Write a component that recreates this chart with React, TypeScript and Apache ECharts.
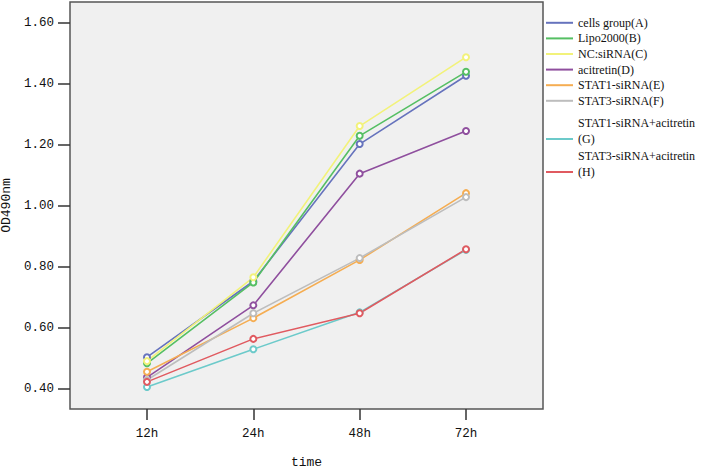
import React, { useEffect, useRef } from "react";
import * as echarts from "echarts";

const categories = ["12h", "24h", "48h", "72h"];
const yTicks = [0.4, 0.6, 0.8, 1.0, 1.2, 1.4, 1.6];

const seriesNames = [
  "cells group(A)",
  "Lipo2000(B)",
  "NC:siRNA(C)",
  "acitretin(D)",
  "STAT1-siRNA(E)",
  "STAT3-siRNA(F)",
  "STAT1-siRNA+acitretin\n(G)",
  "STAT3-siRNA+acitretin\n(H)",
];

const valuesA = [0.503, 0.752, 1.202, 1.426];
const valuesB = [0.483, 0.748, 1.229, 1.439];
const valuesC = [0.49, 0.765, 1.261, 1.487];
const valuesD = [0.437, 0.673, 1.105, 1.245];
const valuesE = [0.455, 0.631, 0.822, 1.041];
const valuesF = [0.428, 0.647, 0.828, 1.028];
const valuesG = [0.405, 0.529, 0.65, 0.855];
const valuesH = [0.422, 0.563, 0.647, 0.857];

const allValues = [valuesA, valuesB, valuesC, valuesD, valuesE, valuesF, valuesG, valuesH];
const colors = ["#6673bd", "#55bf63", "#f2f27a", "#8f4f9e", "#f5ad52", "#bdbdbd", "#6ccaca", "#e05a60"];

export default function App() {
  const ref = useRef<HTMLDivElement>(null);
  useEffect(() => {
    if (!ref.current) return;
    const chart = echarts.init(ref.current, undefined, { renderer: "svg" });
    const legendText = { fontFamily: "Liberation Serif", fontSize: 12, color: "#111", lineHeight: 15.6 };
    const legendCommon = {
      orient: "vertical" as const,
      left: 546,
      padding: 0,
      itemGap: 0,
      itemWidth: 27,
      itemHeight: 2,
      icon: "rect",
      textStyle: legendText,
      selectedMode: false,
    };
    chart.setOption({
      animation: false,
      backgroundColor: "#ffffff",
      grid: {
        left: 70,
        right: 163,
        top: 2,
        bottom: 60,
        outerBoundsMode: "none",
        containLabel: false,
        show: true,
        backgroundColor: "#f0f0f0",
        borderColor: "#555",
        borderWidth: 1.5,
      },
      legend: [
        { ...legendCommon, top: 15, data: seriesNames.slice(0, 6) },
        { ...legendCommon, top: 115.6, data: [seriesNames[6]], formatter: (n: string) => n + "\n " },
        { ...legendCommon, top: 148.6, data: [seriesNames[7]], formatter: (n: string) => n + "\n " },
      ],
      xAxis: {
        type: "value",
        min: -0.724,
        max: 3.724,
        name: "time",
        nameLocation: "middle",
        nameGap: 47,
        nameTextStyle: { fontFamily: "Liberation Mono", fontSize: 13, color: "#111" },
        axisLine: { show: false, onZero: false },
        splitLine: { show: false },
        axisTick: {
          show: true,
          length: 11,
          customValues: categories.map((_, i) => i),
          lineStyle: { color: "#333", width: 1.5 },
        },
        axisLabel: {
          customValues: categories.map((_, i) => i),
          formatter: (v: number) => categories[Math.round(v)] ?? "",
          margin: 18,
          fontFamily: "Liberation Mono",
          fontSize: 12.5,
          color: "#111",
        },
      },
      yAxis: {
        type: "value",
        min: 0.333,
        max: 1.668,
        name: "OD490nm",
        nameLocation: "middle",
        nameGap: 56,
        nameTextStyle: { fontFamily: "Liberation Mono", fontSize: 13, color: "#111" },
        axisLine: { show: false, onZero: false },
        splitLine: { show: false },
        axisTick: {
          show: true,
          length: 12,
          customValues: yTicks,
          lineStyle: { color: "#333", width: 1.5 },
        },
        axisLabel: {
          customValues: yTicks,
          formatter: (v: number) => v.toFixed(2),
          margin: 16,
          fontFamily: "Liberation Mono",
          fontSize: 12.5,
          color: "#111",
        },
      },
      series: allValues.map((vals, si) => ({
        type: "line",
        name: seriesNames[si],
        data: vals.map((v, i) => [i, v]),
        symbol: "emptyCircle",
        symbolSize: 6,
        color: colors[si],
        lineStyle: { width: 1.6, color: colors[si] },
        itemStyle: { color: colors[si], borderWidth: 1.5 },
      })),
    });
    return () => chart.dispose();
  }, []);
  return <div ref={ref} style={{ position: "fixed", left: 0, top: 0, width: 706, height: 469 }} />;
}
